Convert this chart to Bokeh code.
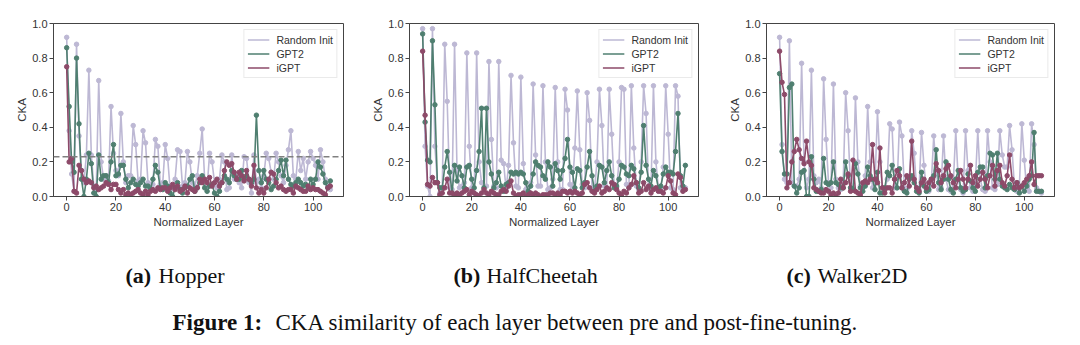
from bokeh.plotting import figure
from bokeh.models import Range1d, FixedTicker, PrintfTickFormatter, Span, Legend, LegendItem
from bokeh.layouts import row, column
from bokeh.embed import file_html
from bokeh.resources import INLINE
from bokeh.core.properties import value

layers = list(range(108))
series_names = ["Random Init", "GPT2", "iGPT"]
panel_titles = [("(a)", "Hopper"), ("(b)", "HalfCheetah"), ("(c)", "Walker2D")]
x_ticks = [0, 20, 40, 60, 80, 100]
y_ticks = [0.0, 0.2, 0.4, 0.6, 0.8, 1.0]
hopper_threshold = 0.23
caption_bold = "Figure 1:"
caption_text = "CKA similarity of each layer between pre and post-fine-tuning."

hopper_random = [0.92, 0.38, 0.13, 0.03, 0.88, 0.35, 0.15, 0.08, 0.24,
                 0.73, 0.24, 0.06, 0.04, 0.67, 0.20, 0.10, 0.12, 0.09,
                 0.52, 0.25, 0.15, 0.12, 0.48, 0.20, 0.08, 0.12, 0.12,
                 0.41, 0.30, 0.09, 0.10, 0.38, 0.31, 0.08, 0.07, 0.07,
                 0.33, 0.29, 0.07, 0.08, 0.30, 0.22, 0.04, 0.05, 0.10,
                 0.27, 0.26, 0.06, 0.08, 0.26, 0.20, 0.08, 0.06, 0.12,
                 0.25, 0.39, 0.10, 0.05, 0.25, 0.20, 0.08, 0.05, 0.10,
                 0.24, 0.20, 0.04, 0.05, 0.24, 0.10, 0.12, 0.08, 0.05,
                 0.23, 0.22, 0.08, 0.02, 0.24, 0.08, 0.10, 0.05, 0.12,
                 0.25, 0.22, 0.14, 0.10, 0.25, 0.20, 0.12, 0.08, 0.18,
                 0.27, 0.38, 0.12, 0.10, 0.26, 0.15, 0.22, 0.10, 0.20,
                 0.26, 0.22, 0.18, 0.10, 0.27, 0.20, 0.10, 0.06, 0.04]
hopper_gpt2 = [0.86, 0.52, 0.20, 0.14, 0.80, 0.42, 0.10, 0.00, 0.10,
               0.25, 0.19, 0.02, 0.00, 0.24, 0.10, 0.12, 0.12, 0.08,
               0.20, 0.30, 0.12, 0.13, 0.18, 0.18, 0.10, 0.05, 0.08,
               0.10, 0.07, 0.06, 0.08, 0.10, 0.06, 0.06, 0.04, 0.10,
               0.18, 0.14, 0.05, 0.04, 0.08, 0.06, 0.02, 0.00, 0.05,
               0.08, 0.04, 0.02, 0.05, 0.06, 0.10, 0.12, 0.03, 0.05,
               0.08, 0.12, 0.05, 0.03, 0.06, 0.07, 0.02, 0.00, 0.03,
               0.08, 0.12, 0.10, 0.08, 0.15, 0.12, 0.10, 0.10, 0.15,
               0.10, 0.12, 0.10, 0.08, 0.10, 0.47, 0.15, 0.08, 0.15,
               0.10, 0.08, 0.04, 0.06, 0.10, 0.15, 0.21, 0.12, 0.21,
               0.10, 0.07, 0.06, 0.08, 0.10, 0.08, 0.06, 0.07, 0.05,
               0.10, 0.07, 0.10, 0.20, 0.17, 0.13, 0.08, 0.05, 0.09]
hopper_igpt = [0.75, 0.20, 0.22, 0.03, 0.02, 0.18, 0.15, 0.10, 0.08,
               0.09, 0.08, 0.05, 0.06, 0.04, 0.05, 0.06, 0.08, 0.07,
               0.04, 0.07, 0.07, 0.04, 0.02, 0.04, 0.01, 0.02, 0.01,
               0.02, 0.03, 0.04, 0.02, 0.01, 0.03, 0.01, 0.03, 0.04,
               0.03, 0.05, 0.04, 0.05, 0.05, 0.03, 0.05, 0.07, 0.04,
               0.06, 0.03, 0.04, 0.06, 0.02, 0.05, 0.04, 0.03, 0.05,
               0.10, 0.08, 0.10, 0.08, 0.11, 0.06, 0.08, 0.10, 0.06,
               0.08, 0.15, 0.20, 0.18, 0.19, 0.14, 0.10, 0.14, 0.12,
               0.09, 0.15, 0.10, 0.06, 0.18, 0.05, 0.02, 0.04, 0.02,
               0.05, 0.10, 0.14, 0.13, 0.08, 0.05, 0.06, 0.04, 0.03,
               0.04, 0.04, 0.02, 0.06, 0.05, 0.04, 0.03, 0.03, 0.06,
               0.04, 0.05, 0.04, 0.04, 0.03, 0.02, 0.01, 0.05, 0.06]

cheetah_random = [0.97, 0.29, 0.06, 0.00, 0.97, 0.29, 0.08, 0.02, 0.05,
                  0.88, 0.55, 0.05, 0.04, 0.88, 0.15, 0.05, 0.06, 0.08,
                  0.83, 0.29, 0.05, 0.02, 0.83, 0.20, 0.08, 0.05, 0.06,
                  0.78, 0.33, 0.06, 0.05, 0.78, 0.21, 0.19, 0.04, 0.18,
                  0.70, 0.31, 0.06, 0.05, 0.69, 0.19, 0.04, 0.05, 0.08,
                  0.65, 0.24, 0.06, 0.06, 0.64, 0.20, 0.04, 0.05, 0.10,
                  0.63, 0.20, 0.04, 0.04, 0.62, 0.50, 0.07, 0.05, 0.28,
                  0.61, 0.27, 0.07, 0.05, 0.60, 0.44, 0.05, 0.04, 0.20,
                  0.62, 0.41, 0.06, 0.05, 0.62, 0.36, 0.06, 0.05, 0.20,
                  0.63, 0.62, 0.07, 0.05, 0.64, 0.28, 0.06, 0.04, 0.20,
                  0.64, 0.48, 0.05, 0.04, 0.64, 0.20, 0.05, 0.04, 0.17,
                  0.64, 0.36, 0.05, 0.04, 0.64, 0.58, 0.05, 0.04, 0.05]
cheetah_gpt2 = [0.94, 0.43, 0.21, 0.20, 0.90, 0.53, 0.08, 0.05, 0.05,
                0.17, 0.26, 0.14, 0.02, 0.18, 0.09, 0.17, 0.12, 0.05,
                0.17, 0.18, 0.10, 0.05, 0.15, 0.26, 0.51, 0.05, 0.51,
                0.20, 0.13, 0.05, 0.08, 0.14, 0.06, 0.03, 0.07, 0.08,
                0.14, 0.13, 0.14, 0.13, 0.14, 0.13, 0.08, 0.03, 0.06,
                0.13, 0.20, 0.18, 0.17, 0.12, 0.10, 0.20, 0.17, 0.06,
                0.19, 0.15, 0.10, 0.15, 0.22, 0.33, 0.17, 0.14, 0.05,
                0.16, 0.15, 0.05, 0.08, 0.17, 0.26, 0.12, 0.03, 0.06,
                0.18, 0.17, 0.08, 0.15, 0.20, 0.12, 0.05, 0.06, 0.10,
                0.18, 0.17, 0.13, 0.12, 0.18, 0.16, 0.08, 0.05, 0.14,
                0.41, 0.18, 0.10, 0.06, 0.15, 0.12, 0.05, 0.06, 0.13,
                0.17, 0.14, 0.14, 0.13, 0.26, 0.48, 0.12, 0.06, 0.18]
cheetah_igpt = [0.84, 0.47, 0.07, 0.06, 0.11, 0.08, 0.08, 0.01, 0.02,
                0.05, 0.10, 0.02, 0.02, 0.01, 0.02, 0.01, 0.02, 0.03,
                0.04, 0.01, 0.03, 0.02, 0.01, 0.00, 0.02, 0.04, 0.02,
                0.01, 0.03, 0.02, 0.01, 0.01, 0.03, 0.04, 0.03, 0.06,
                0.09, 0.02, 0.00, 0.01, 0.01, 0.02, 0.00, 0.01, 0.02,
                0.01, 0.02, 0.01, 0.00, 0.01, 0.01, 0.01, 0.02, 0.02,
                0.01, 0.02, 0.01, 0.03, 0.03, 0.02, 0.03, 0.02, 0.03,
                0.02, 0.01, 0.02, 0.07, 0.08, 0.05, 0.03, 0.02, 0.04,
                0.06, 0.02, 0.03, 0.05, 0.04, 0.08, 0.07, 0.04, 0.02,
                0.01, 0.03, 0.02, 0.05, 0.07, 0.12, 0.08, 0.02, 0.03,
                0.08, 0.04, 0.06, 0.02, 0.04, 0.05, 0.03, 0.03, 0.02,
                0.05, 0.12, 0.09, 0.02, 0.01, 0.13, 0.11, 0.03, 0.04]

walker_random = [0.92, 0.30, 0.10, 0.08, 0.90, 0.08, 0.06, 0.06, 0.10,
                 0.77, 0.20, 0.05, 0.10, 0.73, 0.12, 0.08, 0.10, 0.05,
                 0.68, 0.33, 0.08, 0.05, 0.65, 0.10, 0.05, 0.04, 0.08,
                 0.60, 0.38, 0.05, 0.05, 0.57, 0.20, 0.06, 0.05, 0.12,
                 0.52, 0.20, 0.05, 0.08, 0.49, 0.20, 0.05, 0.04, 0.10,
                 0.42, 0.39, 0.05, 0.05, 0.43, 0.35, 0.05, 0.04, 0.10,
                 0.38, 0.25, 0.05, 0.04, 0.37, 0.18, 0.04, 0.03, 0.08,
                 0.35, 0.15, 0.04, 0.05, 0.35, 0.10, 0.04, 0.03, 0.08,
                 0.38, 0.10, 0.04, 0.02, 0.38, 0.15, 0.05, 0.03, 0.08,
                 0.38, 0.10, 0.04, 0.03, 0.38, 0.20, 0.05, 0.04, 0.07,
                 0.38, 0.24, 0.17, 0.17, 0.41, 0.27, 0.05, 0.03, 0.06,
                 0.42, 0.21, 0.04, 0.03, 0.42, 0.30, 0.05, 0.03, 0.02]
walker_gpt2 = [0.71, 0.26, 0.13, 0.13, 0.63, 0.65, 0.06, 0.02, 0.05,
               0.14, 0.15, 0.00, 0.00, 0.23, 0.10, 0.03, 0.03, 0.04,
               0.22, 0.08, 0.07, 0.08, 0.20, 0.08, 0.07, 0.05, 0.05,
               0.20, 0.12, 0.05, 0.04, 0.19, 0.13, 0.05, 0.03, 0.06,
               0.17, 0.12, 0.10, 0.04, 0.14, 0.02, 0.02, 0.05, 0.14,
               0.12, 0.18, 0.10, 0.05, 0.16, 0.05, 0.03, 0.02, 0.10,
               0.12, 0.08, 0.03, 0.02, 0.14, 0.06, 0.03, 0.04, 0.10,
               0.12, 0.27, 0.08, 0.04, 0.10, 0.20, 0.10, 0.04, 0.02,
               0.10, 0.15, 0.05, 0.03, 0.04, 0.13, 0.09, 0.05, 0.03,
               0.14, 0.17, 0.17, 0.05, 0.12, 0.25, 0.24, 0.10, 0.25,
               0.10, 0.06, 0.05, 0.04, 0.07, 0.05, 0.04, 0.08, 0.02,
               0.06, 0.03, 0.06, 0.10, 0.12, 0.37, 0.03, 0.03, 0.03]
walker_igpt = [0.84, 0.66, 0.59, 0.05, 0.08, 0.20, 0.26, 0.33, 0.27,
               0.22, 0.19, 0.32, 0.20, 0.18, 0.05, 0.04, 0.03, 0.02,
               0.02, 0.04, 0.03, 0.01, 0.02, 0.00, 0.02, 0.10, 0.05,
               0.08, 0.13, 0.03, 0.21, 0.03, 0.02, 0.01, 0.08, 0.09,
               0.08, 0.10, 0.30, 0.10, 0.08, 0.28, 0.05, 0.02, 0.05,
               0.05, 0.02, 0.10, 0.15, 0.12, 0.05, 0.08, 0.12, 0.06,
               0.32, 0.10, 0.05, 0.03, 0.08, 0.10, 0.05, 0.08, 0.10,
               0.06, 0.19, 0.15, 0.08, 0.12, 0.16, 0.18, 0.12, 0.08,
               0.05, 0.10, 0.15, 0.10, 0.05, 0.10, 0.18, 0.08, 0.12,
               0.06, 0.10, 0.14, 0.10, 0.05, 0.12, 0.18, 0.06, 0.15,
               0.18, 0.08, 0.06, 0.12, 0.24, 0.10, 0.05, 0.08, 0.05,
               0.06, 0.08, 0.10, 0.12, 0.20, 0.07, 0.12, 0.12, 0.12]

panels = [
    [hopper_random, hopper_gpt2, hopper_igpt],
    [cheetah_random, cheetah_gpt2, cheetah_igpt],
    [walker_random, walker_gpt2, walker_igpt],
]

colors = ["#bdb8d4", "#4f7f70", "#8d4a69"]
FONT = "Liberation Sans"
SERIF = "Liberation Serif"
borders = [(53, 17), (49, 22), (46, 26)]


def make_panel(i):
    bl, br = borders[i]
    p = figure(width=360, height=230, output_backend="svg", toolbar_location=None,
               x_range=Range1d(-5.35, 112.35), y_range=Range1d(0, 1),
               min_border_left=bl, min_border_right=br, min_border_top=23, min_border_bottom=34)
    p.grid.visible = False
    p.outline_line_color = "#444444"
    p.outline_line_width = 1
    p.background_fill_color = "white"
    p.border_fill_color = "white"
    for ax in (p.xaxis[0], p.yaxis[0]):
        ax.axis_line_color = "#444444"
        ax.major_tick_line_color = "#444444"
        ax.major_tick_out = 4
        ax.major_tick_in = 0
        ax.minor_tick_line_color = None
        ax.major_label_text_font = FONT
        ax.major_label_text_font_size = "11px"
        ax.major_label_text_color = "#333333"
        ax.axis_label_text_font = FONT
        ax.axis_label_text_font_size = "11.5px"
        ax.axis_label_text_font_style = "normal"
        ax.axis_label_text_color = "#333333"
        ax.major_label_standoff = 2
        ax.axis_label_standoff = 2
    p.xaxis.ticker = FixedTicker(ticks=x_ticks)
    p.yaxis.ticker = FixedTicker(ticks=y_ticks)
    p.yaxis.formatter = PrintfTickFormatter(format="%.1f")
    p.xaxis.axis_label = "Normalized Layer"
    p.yaxis.axis_label = "CKA"
    p.yaxis.axis_label_standoff = 1

    items = []
    for name, vals, col in zip(series_names, panels[i], colors):
        r = p.line(layers, vals, line_color=col, line_width=1.6)
        p.scatter(layers, vals, size=4.5, fill_color=col, line_color=col)
        items.append(LegendItem(label=name, renderers=[r]))
    if i == 0:
        p.add_layout(Span(location=hopper_threshold, dimension="width", line_color="#808080",
                          line_dash="6 3", line_width=1.4))
    leg = Legend(items=items, location="top_right", margin=6, padding=3, spacing=1,
                 label_text_font=FONT, label_text_font_size="10.5px", label_text_color="#333333",
                 glyph_width=22, glyph_height=13, label_height=13, label_standoff=7,
                 border_line_color="#d6d6d6", border_line_width=1, background_fill_alpha=0.85)
    p.add_layout(leg)
    return p


plots = [make_panel(i) for i in range(3)]

cap = figure(width=1080, height=115, output_backend="svg", toolbar_location=None,
             x_range=Range1d(0, 1080), y_range=Range1d(345, 230),
             min_border=0)
cap.axis.visible = False
cap.grid.visible = False
cap.outline_line_color = None

sub_x = [(125, 158), (453, 486), (786, 817)]
for (lbl, name), (x1, x2) in zip(panel_titles, sub_x):
    cap.text(x=[x1], y=[275], text=[lbl], text_font=value(SERIF), text_font_style="bold",
             text_font_size="22px", text_color="#111111", text_baseline="alphabetic", text_align="left")
    cap.text(x=[x2], y=[275], text=[name], text_font=value(SERIF), text_font_style="normal",
             text_font_size="22px", text_color="#111111", text_baseline="alphabetic", text_align="left")
cap.text(x=[172], y=[322], text=[caption_bold], text_font=value(SERIF), text_font_style="bold",
         text_font_size="23px", text_color="#111111", text_baseline="alphabetic", text_align="left")
cap.text(x=[275], y=[322], text=[caption_text], text_font=value(SERIF), text_font_style="normal",
         text_font_size="23px", text_color="#111111", text_baseline="alphabetic", text_align="left")

layout = column(row(*plots), cap)
open("out.html", "w").write(file_html(layout, INLINE))
